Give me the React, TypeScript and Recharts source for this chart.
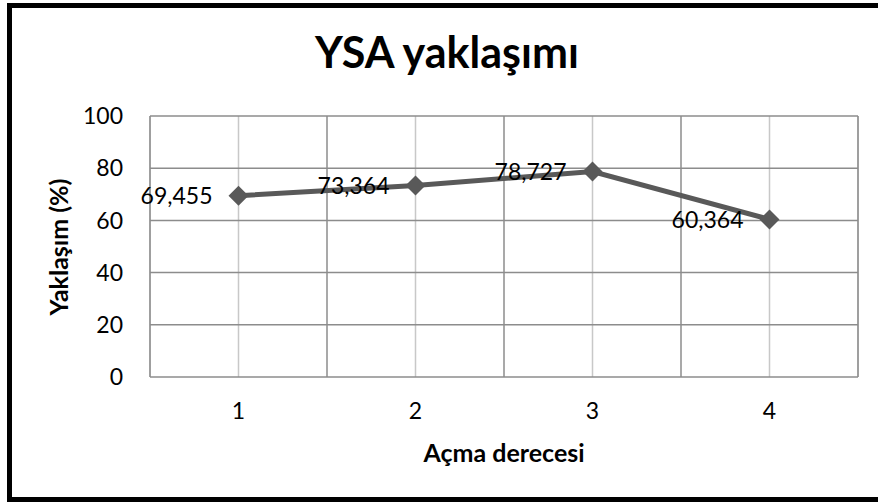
import React from "react";
import {
  LineChart,
  Line,
  XAxis,
  YAxis,
  CartesianGrid,
  ReferenceLine,
  LabelList,
} from "recharts";

// Açma derecesi (x) and YSA approach values (%)
const categories = [1, 2, 3, 4];
const values = [69.455, 73.364, 78.727, 60.364];
const yTicks = [0, 20, 40, 60, 80, 100];
const bandEdges = [0.5, 1.5, 2.5, 3.5, 4.5];

const data = categories.map((c, i) => ({ x: c, value: values[i] }));

const FONT = "Lato, 'Open Sans', sans-serif";
const LINE_COLOR = "#595959";
const GRID_DARK = "#8c8c8c";
const GRID_LIGHT = "#c8c8c8";

// diamond marker like the spreadsheet default
const Diamond = (props: any) => {
  const { cx, cy } = props;
  if (cx == null || cy == null) return null;
  const r = 10;
  return (
    <polygon
      points={`${cx},${cy - r} ${cx + r},${cy} ${cx},${cy + r} ${cx - r},${cy}`}
      fill={LINE_COLOR}
    />
  );
};

const formatValue = (v: any) => Number(v).toFixed(3).replace(".", ",");

export default function App() {
  return (
    <div
      style={{
        position: "absolute",
        left: 0,
        top: 0,
        width: 878,
        height: 502,
        overflow: "hidden",
        background: "#fff",
        fontFamily: FONT,
      }}
    >
      {/* outer frame, cut off on the right like the original */}
      <div
        style={{
          position: "absolute",
          left: 7,
          top: 3,
          width: 920,
          height: 499,
          border: "5px solid #000",
          boxSizing: "border-box",
        }}
      />

      <div
        style={{
          position: "absolute",
          left: 147,
          top: 30,
          width: 600,
          textAlign: "center",
          fontSize: 43,
          fontWeight: 700,
          lineHeight: 1,
          color: "#000",
        }}
      >
        YSA yaklaşımı
      </div>

      <div style={{ position: "absolute", left: 0, top: 0 }}>
        <LineChart
          width={878}
          height={502}
          data={data}
          margin={{ top: 116, right: 20, bottom: 95, left: 90 }}
        >
          <CartesianGrid
            horizontal={false}
            stroke={GRID_LIGHT}
            strokeWidth={1.5}
          />
          <CartesianGrid vertical={false} stroke={GRID_DARK} strokeWidth={1.5} />
          {bandEdges.map((e) => (
            <ReferenceLine
              key={e}
              x={e}
              stroke={GRID_DARK}
              strokeWidth={1.5}
            />
          ))}
          <XAxis
            dataKey="x"
            type="number"
            domain={[0.5, 4.5]}
            ticks={categories}
            height={30}
            axisLine={false}
            tickLine={false}
            tickSize={0}
            tickMargin={26}
            tick={{ fill: "#000", fontSize: 23, fontFamily: FONT }}
          />
          <YAxis
            domain={[0, 100]}
            ticks={yTicks}
            width={60}
            axisLine={false}
            tickLine={false}
            tickSize={0}
            tickMargin={27}
            tick={{ fill: "#000", fontSize: 23, fontFamily: FONT }}
          />
          <Line
            type="linear"
            dataKey="value"
            stroke={LINE_COLOR}
            strokeWidth={5}
            dot={<Diamond />}
            activeDot={false}
            isAnimationActive={false}
          >
            <LabelList
              dataKey="value"
              position="left"
              offset={26}
              formatter={formatValue}
              style={{ fill: "#000", fontSize: 23, fontFamily: FONT }}
            />
          </Line>
        </LineChart>
      </div>

      <div
        style={{
          position: "absolute",
          left: 354,
          top: 440,
          width: 300,
          textAlign: "center",
          fontSize: 25,
          fontWeight: 700,
          lineHeight: 1,
          color: "#000",
        }}
      >
        Açma derecesi
      </div>

      <div
        style={{
          position: "absolute",
          left: 58,
          top: 247,
          transform: "translate(-50%, -50%) rotate(-90deg)",
          whiteSpace: "nowrap",
          fontSize: 25,
          fontWeight: 700,
          lineHeight: 1,
          color: "#000",
        }}
      >
        Yaklaşım (%)
      </div>
    </div>
  );
}
